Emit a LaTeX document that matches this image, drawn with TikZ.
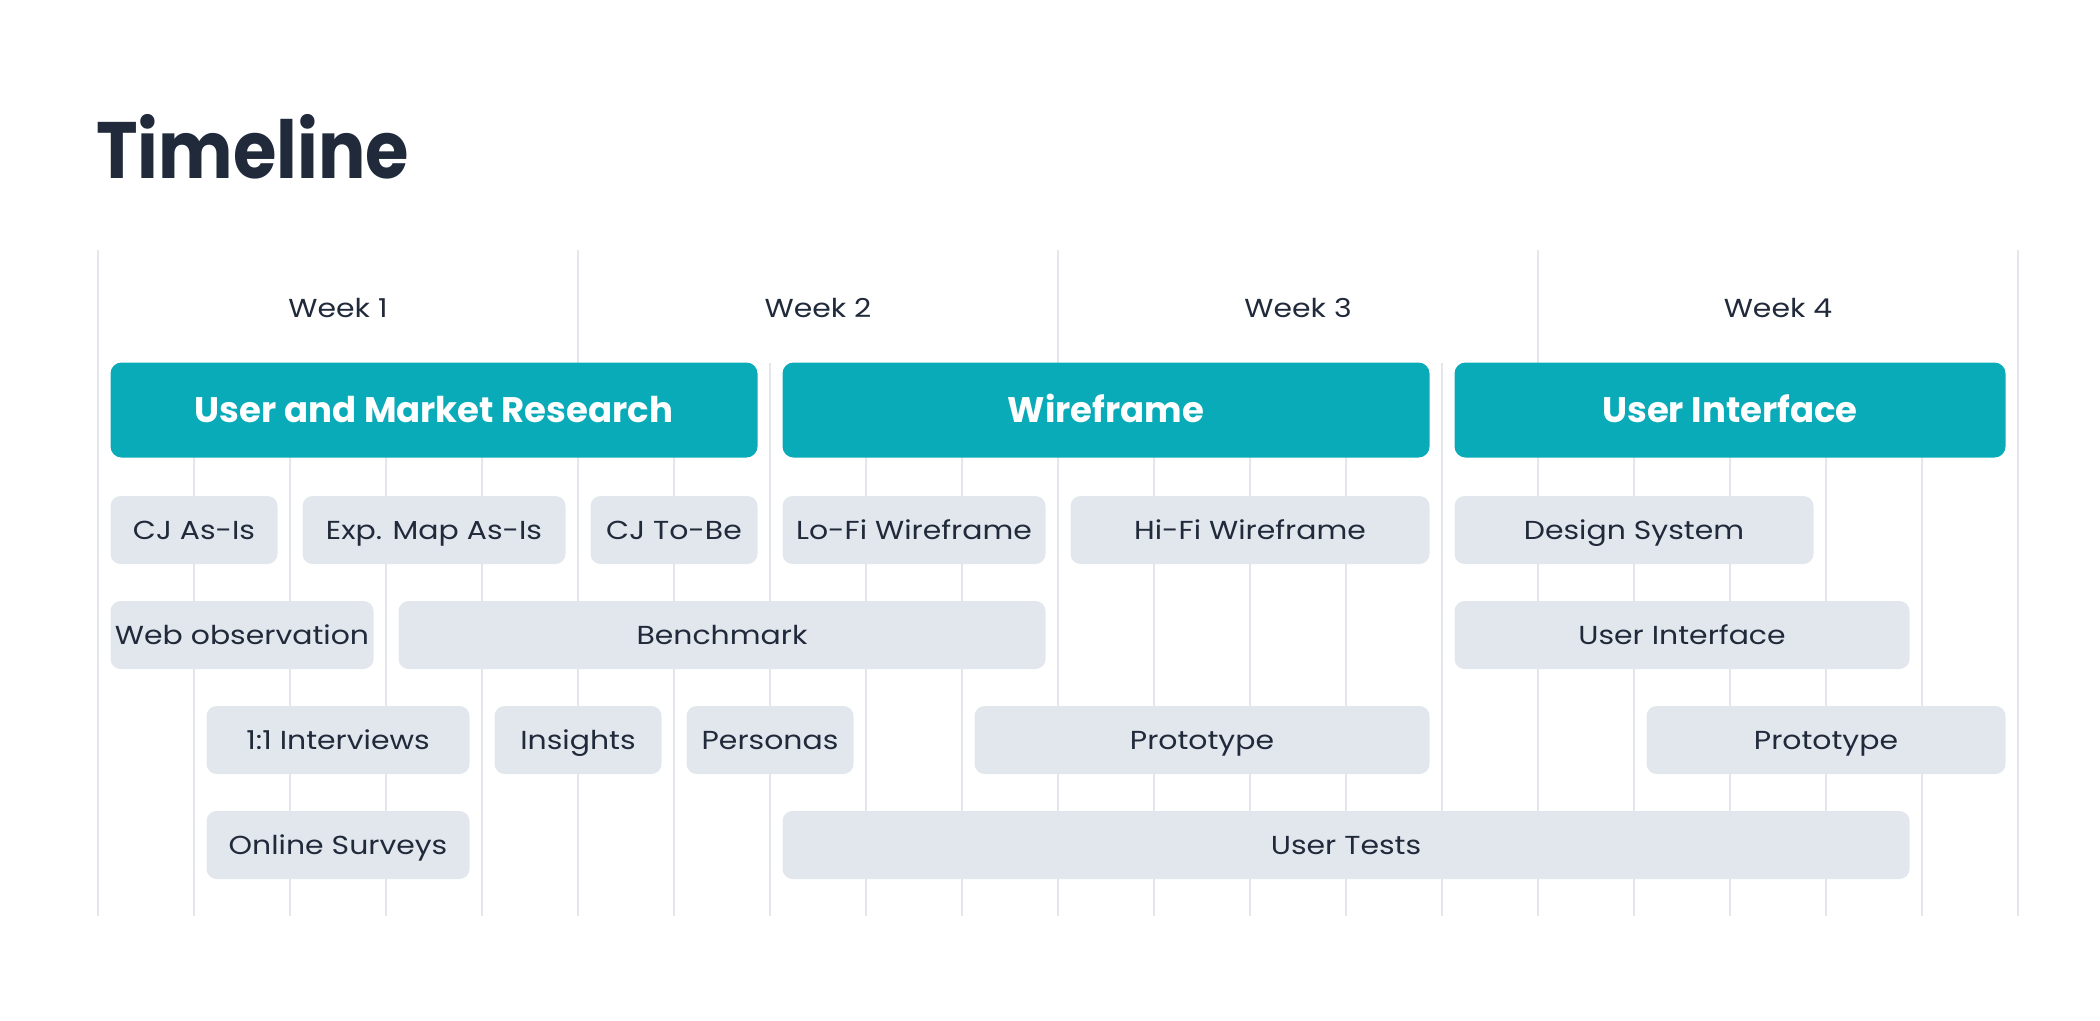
\documentclass[tikz,border=0pt]{standalone}
\usepackage{fontspec}
\setmainfont{Poppins}
\newfontfamily\taskfont{Poppins}[FakeStretch=1.15]
\newfontfamily\titlefont{Poppins}[FakeStretch=0.88]
\usetikzlibrary{positioning}

\definecolor{teal}{HTML}{0AABB8}
\definecolor{taskgray}{HTML}{E2E7EE}
\definecolor{gridgray}{HTML}{E3E6EB}
\definecolor{ink}{HTML}{212A3A}

\tikzset{
  bar/.style={fill=teal, text=white, rounded corners=11pt, minimum height=95pt,
    inner sep=0pt, text height=25pt, text depth=0pt,
    font=\fontsize{35.5}{42}\selectfont\bfseries},
  task/.style={fill=taskgray, text=ink, rounded corners=10pt, minimum height=68pt,
    inner sep=0pt, text height=18pt, text depth=0pt,
    font=\taskfont\fontsize{26}{30}\selectfont},
  week/.style={text=ink, text height=18pt, text depth=0pt,
    font=\taskfont\fontsize{26}{30}\selectfont},
  gridline/.style={draw=gridgray, line width=2.5pt}
}

\begin{document}
\begin{tikzpicture}[x=1pt,y=-1pt]
        \useasboundingbox (0,0) rectangle (2100,1020);

        \node [anchor=base west, text=ink, inner sep=0pt, font=\titlefont\fontsize{80}{92}\selectfont\bfseries]
          (title) at (96,178) {Timeline};

        % grid
        \foreach \i in {0,5,10,15,20}
          \draw [gridline] (98+96*\i,250) -- (98+96*\i,916);
        \foreach \i in {1,2,3,4,6,7,8,9,11,12,13,14,16,17,18,19}
          \draw [gridline] (98+96*\i,363) -- (98+96*\i,916);

        \node [week] (w1) at (338,308) {Week 1};
        \node [week] (w2) at (818,308) {Week 2};
        \node [week] (w3) at (1298,308) {Week 3};
        \node [week] (w4) at (1778,308) {Week 4};

        % phases
        \node [bar, minimum width=647pt] (research) at (434,410) {User and Market Research};
        \node [bar, minimum width=647pt] (wireframe) at (1106,410) {Wireframe};
        \node [bar, minimum width=551pt] (interface) at (1730,410) {User Interface};

        % tasks
        \node [task, minimum width=167pt] (cjasis) at (194,530) {CJ As-Is};
        \node [task, minimum width=263pt] (expmap) at (434,530) {Exp. Map As-Is};
        \node [task, minimum width=167pt] (cjtobe) at (674,530) {CJ To-Be};
        \node [task, minimum width=263pt] (lofi) at (914,530) {Lo-Fi Wireframe};
        \node [task, minimum width=359pt] (hifi) at (1250,530) {Hi-Fi Wireframe};
        \node [task, minimum width=359pt] (design) at (1634,530) {Design System};

        \node [task, minimum width=263pt] (webobs) at (242,635) {Web observation};
        \node [task, minimum width=647pt] (bench) at (722,635) {Benchmark};
        \node [task, minimum width=455pt] (ui) at (1682,635) {User Interface};

        \node [task, minimum width=263pt] (interviews) at (338,740) {1:1 Interviews};
        \node [task, minimum width=167pt] (insights) at (578,740) {Insights};
        \node [task, minimum width=167pt] (personas) at (770,740) {Personas};
        \node [task, minimum width=455pt] (protoA) at (1202,740) {Prototype};
        \node [task, minimum width=359pt] (protoB) at (1826,740) {Prototype};

        \node [task, minimum width=263pt] (surveys) at (338,845) {Online Surveys};
        \node [task, minimum width=1127pt] (tests) at (1346,845) {User Tests};
      \end{tikzpicture}
\end{document}
